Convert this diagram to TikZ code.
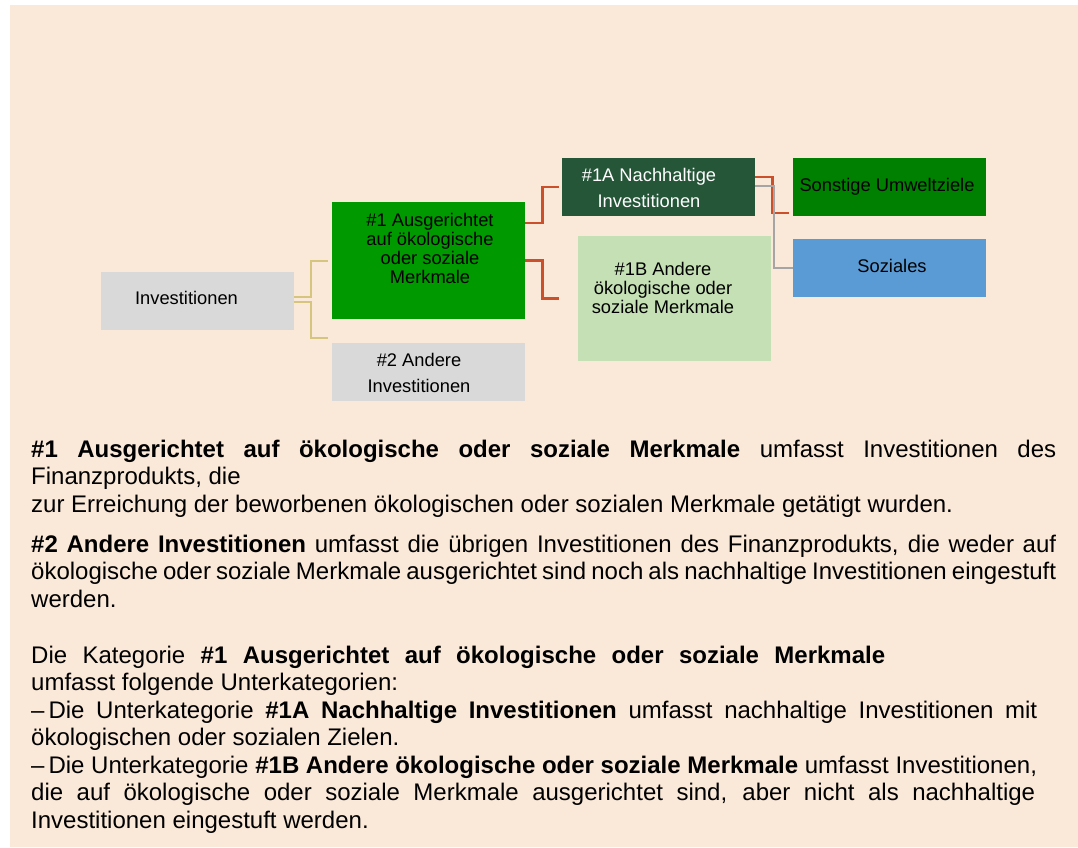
\documentclass[tikz,border=0pt]{standalone}
\usepackage{fontspec}
\setmainfont{Liberation Sans}
\usetikzlibrary{calc}
\definecolor{bg}{HTML}{FAE8D8}
\definecolor{boxgray}{HTML}{D9D9D9}
\definecolor{grnA}{HTML}{009900}
\definecolor{grnDark}{HTML}{255638}
\definecolor{grnLight}{HTML}{C5E0B4}
\definecolor{grnSon}{HTML}{008000}
\definecolor{blueSoz}{HTML}{5B9BD5}
\definecolor{tanC}{HTML}{D5C57F}
\definecolor{redC}{HTML}{CB4F2B}
\definecolor{grayC}{HTML}{A5A5A5}
\tikzset{
  box/.style={draw=none, inner sep=0pt, minimum width=193pt, anchor=north west},
  boxtext/.style={inner sep=0pt, anchor=north, align=center, font=\fontsize{18.3}{19}\selectfont},
  boxtextwide/.style={boxtext, font=\fontsize{18.3}{26}\selectfont},
  para/.style={inner sep=0pt, anchor=north west, align=left, font=\fontsize{24}{27.5}\selectfont},
  tanline/.style={draw=tanC, line width=2pt},
  redline/.style={draw=redC, line width=2.5pt},
  grayline/.style={draw=grayC, line width=2pt}
}
\begin{document}
\begin{tikzpicture}[x=1pt,y=-1pt]
\useasboundingbox (0,0) rectangle (1078,847);
\fill[bg] (10,5) rectangle (1078,847);

% boxes
\node[box, fill=boxgray, minimum height=58pt] (inv) at (101,272) {};
\node[box, fill=grnA, minimum height=117pt] (one) at (332,202) {};
\node[box, fill=boxgray, minimum height=58pt] (two) at (332,343) {};
\node[box, fill=grnDark, minimum height=58pt] (oneA) at (562,158) {};
\node[box, fill=grnLight, minimum height=125pt] (oneB) at (578,236) {};
\node[box, fill=grnSon, minimum height=58pt] (son) at (793,158) {};
\node[box, fill=blueSoz, minimum height=58pt] (soz) at (793,239) {};

% box texts
\node[boxtext] (invT) at (186.5,291) {Investitionen};
\node[boxtext] (oneT) at (430,213) {\#1 Ausgerichtet\\auf ökologische\\oder soziale\\Merkmale};
\node[boxtextwide] (twoT) at (419,353) {\#2 Andere\\Investitionen};
\node[boxtextwide, text=white] (oneAT) at (649,168) {\#1A Nachhaltige\\Investitionen};
\node[boxtext] (oneBT) at (663,262) {\#1B Andere\\ökologische oder\\soziale Merkmale};
\node[boxtext] (sonT) at (887,178) {Sonstige Umweltziele};
\node[boxtext] (sozT) at (892,259) {Soziales};

% connectors
\draw[tanline] ([yshift=4pt]inv.east) -- ++(17,0) |- ([xshift=-4pt]one.west);
\draw[tanline] ([yshift=-1pt]inv.east) -- ++(17,0) |- ([xshift=-4pt,yshift=34pt]two.west);
\draw[redline] ([yshift=37.5pt]one.east) -- ++(17,0) |- ([xshift=-3pt]oneA.west);
\draw[redline] (one.east) -- ++(17,0) |- ([xshift=-19pt]oneB.west);
\draw[redline] ([yshift=10pt]oneA.east) -- ++(17,0) |- ([xshift=-4pt,yshift=-26pt]son.west);
\draw[grayline] ([yshift=1pt]oneA.east) -- ++(19,0) |- (soz.west);

% explanatory text
\node[para] (p1) at (31,439.8) {%
\makebox[1025pt][s]{\textbf{\#1 Ausgerichtet auf ökologische oder soziale Merkmale} umfasst Investitionen des}\\
Finanzprodukts, die\\
zur Erreichung der beworbenen ökologischen oder sozialen Merkmale getätigt wurden.};
\node[para] (p2) at (31,534.8) {%
\makebox[1025pt][s]{\textbf{\#2 Andere Investitionen} umfasst die übrigen Investitionen des Finanzprodukts, die weder auf}\\
\makebox[1025pt][s]{ökologische oder soziale Merkmale ausgerichtet sind noch als nachhaltige Investitionen eingestuft}\\
werden.};
\node[para] (p3) at (31,645.8) {%
\makebox[854pt][s]{Die Kategorie \textbf{\#1 Ausgerichtet auf ökologische oder soziale Merkmale}}\\
umfasst folgende Unterkategorien:\\
\makebox[1006pt][s]{–\,Die Unterkategorie \textbf{\#1A Nachhaltige Investitionen} umfasst nachhaltige Investitionen mit}\\
ökologischen oder sozialen Zielen.\\
–\,Die Unterkategorie \textbf{\#1B Andere ökologische oder soziale Merkmale} umfasst Investitionen,\\
\makebox[1004pt][s]{die auf ökologische oder soziale Merkmale ausgerichtet sind, aber nicht als nachhaltige}\\
Investitionen eingestuft werden.};
\end{tikzpicture}
\end{document}
